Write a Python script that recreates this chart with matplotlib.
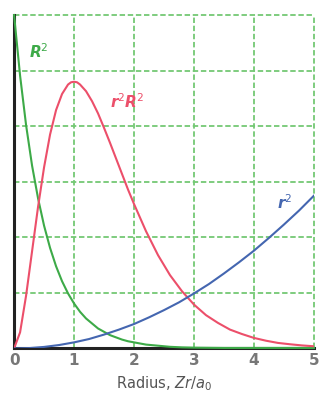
import matplotlib
matplotlib.use('Agg')
from matplotlib import pyplot as plt

# values
r_green = [0, 0.1, 0.2, 0.3, 0.4, 0.5, 0.6, 0.7, 0.8, 0.9, 1.0, 1.1, 1.2, 1.3, 1.4,
           1.5, 1.6, 1.7, 1.8, 1.9, 2.0, 2.2, 2.4, 2.6, 2.8, 3.0, 3.5, 4.0, 4.5, 5.0]
R2 = [6.00, 4.91, 4.02, 3.29, 2.70, 2.21, 1.81, 1.48, 1.21, 0.99, 0.81, 0.66, 0.54, 0.45, 0.36,
      0.30, 0.24, 0.20, 0.16, 0.13, 0.11, 0.07, 0.05, 0.03, 0.02, 0.015, 0.01, 0.01, 0.01, 0.01]

r_red = [0, 0.1, 0.2, 0.3, 0.4, 0.5, 0.6, 0.7, 0.8, 0.9, 0.95, 1.0, 1.05, 1.1, 1.2, 1.3, 1.4, 1.5, 1.6,
         1.7, 1.8, 1.9, 2.0, 2.2, 2.4, 2.6, 2.8, 3.0, 3.2, 3.4, 3.6, 3.8, 4.0, 4.2, 4.4, 4.6, 4.8, 5.0]
r2R2 = [0, 0.29, 0.95, 1.75, 2.55, 3.26, 3.85, 4.29, 4.58, 4.75, 4.79, 4.80, 4.79, 4.75, 4.63, 4.45, 4.23, 3.97, 3.70,
        3.42, 3.14, 2.86, 2.60, 2.11, 1.68, 1.32, 1.03, 0.79, 0.60, 0.46, 0.34, 0.26, 0.19, 0.14, 0.10, 0.076, 0.055, 0.04]

r_blue = [0, 0.25, 0.5, 0.75, 1.0, 1.25, 1.5, 1.75, 2.0, 2.25, 2.5, 2.75, 3.0, 3.25, 3.5,
          3.75, 4.0, 4.25, 4.5, 4.75, 5.0]
r2 = [0, 0.007, 0.028, 0.062, 0.11, 0.17, 0.25, 0.34, 0.44, 0.56, 0.69, 0.83, 0.99, 1.16, 1.35,
      1.55, 1.76, 1.99, 2.23, 2.48, 2.75]

xticks = [0, 1, 2, 3, 4, 5]

fig = plt.figure(figsize=(3.2, 3.96), dpi=100)
ax = fig.add_axes([0.044, 0.12, 0.937, 0.842])

grid_c = '#74c874'
for x in xticks[1:]:
    ax.axvline(x, color=grid_c, lw=1.3, ls=(0, (3, 1.5)), zorder=1, clip_on=False)
for y in range(1, 7):
    ax.axhline(y, color=grid_c, lw=1.3, ls=(0, (3, 1.5)), zorder=1, clip_on=False)

ax.plot(r_green, R2, color='#3daa48', lw=1.5, zorder=3, clip_on=False)
ax.plot(r_red, r2R2, color='#ec4f6a', lw=1.5, zorder=3)
ax.plot(r_blue, r2, color='#4466b0', lw=1.5, zorder=3)

ax.text(0.42, 5.35, '$\\mathbfit{R}^{2}$', color='#3daa48', fontsize=11, ha='center', va='center')
ax.text(1.88, 4.45, '$\\mathbfit{r}^{2}\\mathbfit{R}^{2}$', color='#ec4f6a', fontsize=11, ha='center', va='center')
ax.text(4.52, 2.62, '$\\mathbfit{r}^{2}$', color='#4466b0', fontsize=11, ha='center', va='center')

ax.set_xlim(0, 5)
ax.set_ylim(0, 6)
ax.set_xticks(xticks)
ax.set_xticklabels([str(t) for t in xticks], color='#777777', fontsize=11, fontweight='bold')
ax.set_yticks([])
ax.tick_params(axis='x', length=0, pad=3)

for s in ['top', 'right']:
    ax.spines[s].set_visible(False)
ax.spines['left'].set_color('#222222')
ax.spines['left'].set_linewidth(2.2)
ax.spines['bottom'].set_color('#222222')
ax.spines['bottom'].set_linewidth(2.2)
ax.spines['left'].set_zorder(2)
ax.spines['bottom'].set_zorder(2)

ax.set_xlabel('Radius, $\\mathit{Zr/a}_0$', color='#555555', fontsize=10.5, labelpad=5)

plt.savefig('out.png', dpi=100)
